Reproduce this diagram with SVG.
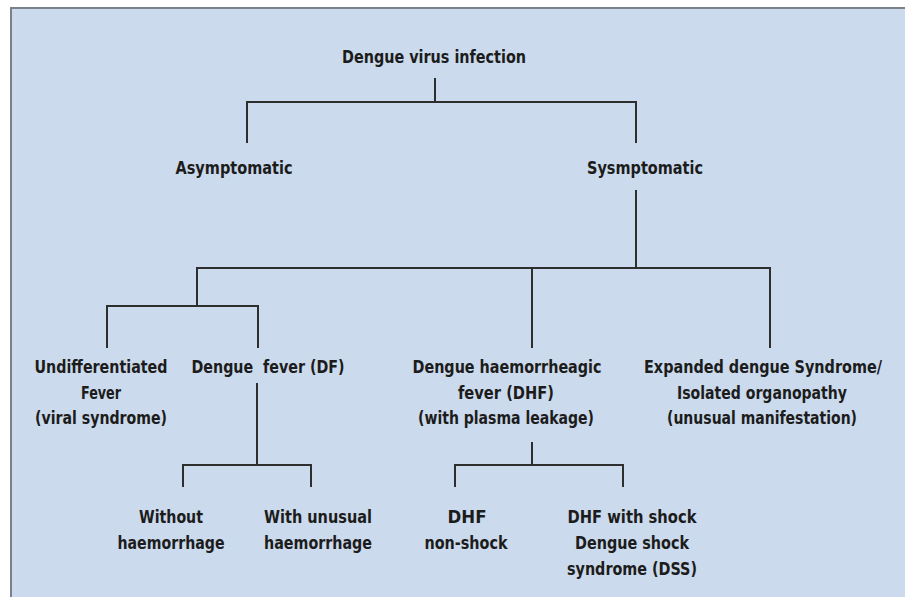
<svg xmlns="http://www.w3.org/2000/svg" width="905" height="597" viewBox="0 0 905 597">
<style>
text{font-family:"DejaVu Sans Condensed","Liberation Sans",sans-serif;font-weight:bold;font-size:17px;fill:#1c1c1c;text-anchor:middle;white-space:pre}
.t{font-size:18.5px}
.c{fill:none;stroke:#2e2e2e;stroke-width:2}
</style>
<rect x="0" y="0" width="905" height="597" fill="#ffffff"/>
<rect x="11" y="8" width="900" height="595" fill="#cbdaec" stroke="#7b8189" stroke-width="2"/>
<g id="connectors" class="c">
<path d="M435 78V102M247 143V102H636V143"/>
<path d="M636 190V268M197 305V268H770V348M532 268V348"/>
<path d="M107 348V306H258V348"/>
<path d="M257 383V465M183 487V465H311V487"/>
<path d="M532 442V465M455 487V465H623V487"/>
</g>
<g id="n-root"><text class="t" x="434" y="63" textLength="184" lengthAdjust="spacingAndGlyphs">Dengue virus infection</text></g>
<g id="n-asym"><text x="234" y="174" textLength="117" lengthAdjust="spacingAndGlyphs">Asymptomatic</text></g>
<g id="n-sym"><text x="645" y="174" textLength="116" lengthAdjust="spacingAndGlyphs">Sysmptomatic</text></g>
<g id="n-uf">
<text x="101" y="373" textLength="133" lengthAdjust="spacingAndGlyphs">Undifferentiated</text>
<text x="101" y="399" textLength="40" lengthAdjust="spacingAndGlyphs">Fever</text>
<text x="101" y="424" textLength="132" lengthAdjust="spacingAndGlyphs">(viral syndrome)</text>
</g>
<g id="n-df"><text x="268" y="373" textLength="153" lengthAdjust="spacingAndGlyphs">Dengue  fever (DF)</text></g>
<g id="n-dhf">
<text x="507" y="373" textLength="189" lengthAdjust="spacingAndGlyphs">Dengue haemorrheagic</text>
<text x="506" y="399" textLength="96" lengthAdjust="spacingAndGlyphs">fever (DHF)</text>
<text x="506" y="424" textLength="176" lengthAdjust="spacingAndGlyphs">(with plasma leakage)</text>
</g>
<g id="n-eds">
<text x="763" y="373" textLength="238" lengthAdjust="spacingAndGlyphs">Expanded dengue Syndrome/</text>
<text x="762" y="399" textLength="170" lengthAdjust="spacingAndGlyphs">Isolated organopathy</text>
<text x="762" y="424" textLength="190" lengthAdjust="spacingAndGlyphs">(unusual manifestation)</text>
</g>
<g id="n-without">
<text x="171" y="523" textLength="64" lengthAdjust="spacingAndGlyphs">Without</text>
<text x="171" y="549" textLength="107" lengthAdjust="spacingAndGlyphs">haemorrhage</text>
</g>
<g id="n-with">
<text x="318" y="523" textLength="108" lengthAdjust="spacingAndGlyphs">With unusual</text>
<text x="318" y="549" textLength="108" lengthAdjust="spacingAndGlyphs">haemorrhage</text>
</g>
<g id="n-nonshock">
<text x="467" y="523" textLength="39" lengthAdjust="spacingAndGlyphs">DHF</text>
<text x="466" y="549" textLength="83" lengthAdjust="spacingAndGlyphs">non-shock</text>
</g>
<g id="n-shock">
<text x="632" y="523" textLength="129" lengthAdjust="spacingAndGlyphs">DHF with shock</text>
<text x="632" y="549" textLength="114" lengthAdjust="spacingAndGlyphs">Dengue shock</text>
<text x="632" y="575" textLength="130" lengthAdjust="spacingAndGlyphs">syndrome (DSS)</text>
</g>
</svg>
